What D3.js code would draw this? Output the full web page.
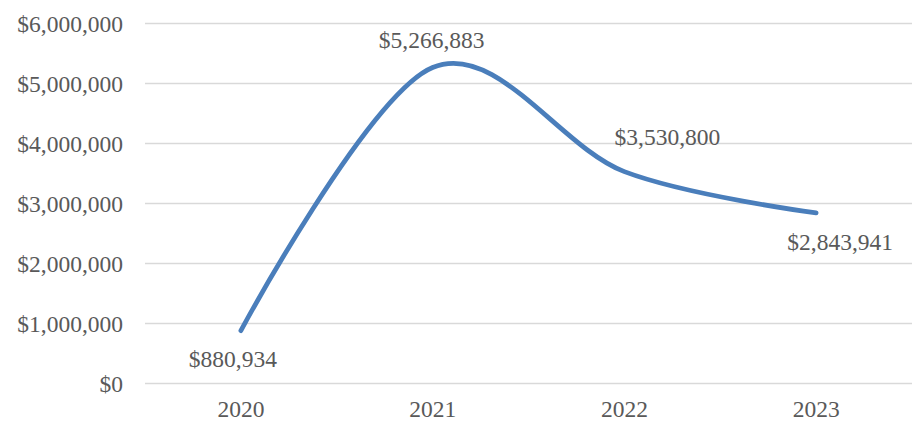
<!DOCTYPE html>
<html>
<head>
<meta charset="utf-8">
<script src="https://cdn.jsdelivr.net/npm/d3@7"></script>
<style>
  body { margin: 0; background: #fff; }
  text { font-family: "Liberation Serif", "Times New Roman", serif; fill: #595959; }
</style>
</head>
<body>
<svg id="chart" width="914" height="424"></svg>
<script>
const years = ['2020', '2021', '2022', '2023']
const totals = [880934, 5266883, 3530800, 2843941]
const yTicks = [0, 1000000, 2000000, 3000000, 4000000, 5000000, 6000000]
// label nudges relative to each point (dx, dy)
const labelOffsets = [[-8, 36], [-1, -19], [43, -27], [24, 37]]

const svg = d3.select('#chart')
const margin = { top: 23.5, right: 2, bottom: 40.5, left: 145 }
const width = 914 - margin.left - margin.right
const height = 424 - margin.top - margin.bottom

const g = svg.append('g')
  .attr('transform', `translate(${margin.left},${margin.top})`)

const x = d3.scaleBand()
  .domain(years)
  .range([0, width])

const y = d3.scaleLinear()
  .domain([0, 6000000])
  .range([height, 0])

const fmt = d3.format('$,')

// gridlines
g.append('g')
  .selectAll('line')
  .data(yTicks)
  .join('line')
  .attr('x1', 0)
  .attr('x2', width)
  .attr('y1', d => y(d))
  .attr('y2', d => y(d))
  .attr('stroke', '#d9d9d9')
  .attr('stroke-width', 1.3)

// y axis labels
const yAxis = g.append('g')
  .call(d3.axisLeft(y).tickValues(yTicks).tickFormat(fmt).tickSize(0).tickPadding(22))
yAxis.select('.domain').remove()
yAxis.selectAll('text')
  .attr('font-size', '23.5px')
  .attr('fill', '#595959')
  .style('font-family', '"Liberation Serif", serif')

// x axis labels
const xAxis = g.append('g')
  .attr('transform', `translate(0,${height})`)
  .call(d3.axisBottom(x).tickSize(0).tickPadding(17))
xAxis.select('.domain').remove()
xAxis.selectAll('text')
  .attr('font-size', '23.5px')
  .attr('fill', '#595959')
  .style('font-family', '"Liberation Serif", serif')

const cx = d => x(d) + x.bandwidth() / 2

const line = d3.line()
  .x((d, i) => cx(years[i]))
  .y(d => y(d))
  .curve(d3.curveCardinal.tension(0))

g.append('path')
  .datum(totals)
  .attr('d', line)
  .attr('fill', 'none')
  .attr('stroke', '#4a7ebb')
  .attr('stroke-width', 4.75)
  .attr('stroke-linecap', 'round')
  .attr('stroke-linejoin', 'round')

// data labels
g.append('g')
  .selectAll('text')
  .data(totals)
  .join('text')
  .attr('x', (d, i) => cx(years[i]) + labelOffsets[i][0])
  .attr('y', (d, i) => y(d) + labelOffsets[i][1])
  .attr('text-anchor', 'middle')
  .attr('font-size', '23.5px')
  .text(d => fmt(d))
</script>
</body>
</html>
